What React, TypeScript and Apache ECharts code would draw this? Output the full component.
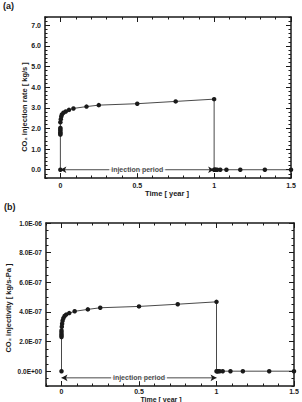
import React, { useEffect, useRef } from "react";
import * as echarts from "echarts";

// ---- data ----
const rateTime = [0, 0, 0, 0, 0, 0, 0, 0, 0.003, 0.006, 0.01, 0.02, 0.035, 0.056, 0.085, 0.17, 0.25, 0.5, 0.75, 1.0, 1.0, 1.005, 1.01, 1.02, 1.04, 1.08, 1.17, 1.33, 1.5];
const rateValue = [0, 1.7, 1.75, 1.82, 1.9, 1.97, 2.03, 2.3, 2.45, 2.58, 2.68, 2.76, 2.82, 2.9, 2.97, 3.06, 3.13, 3.2, 3.31, 3.42, 0, 0, 0, 0, 0, 0, 0, 0, 0];

const injTime = [0, 0, 0, 0, 0, 0, 0.002, 0.004, 0.007, 0.012, 0.02, 0.03, 0.05, 0.085, 0.17, 0.25, 0.5, 0.75, 1.0, 1.0, 1.005, 1.01, 1.02, 1.04, 1.09, 1.17, 1.34, 1.5];
const injValue = [0, 2.3e-7, 2.4e-7, 2.5e-7, 2.62e-7, 2.75e-7, 3.0e-7, 3.2e-7, 3.4e-7, 3.58e-7, 3.72e-7, 3.82e-7, 3.92e-7, 4.04e-7, 4.17e-7, 4.28e-7, 4.37e-7, 4.52e-7, 4.68e-7, 0, 0, 0, 0, 0, 0, 0, 0, 0];

// injection period arrow: start time, end time, level in each panel
const periodTime = [0, 1];
const periodLevelA = 0;
const periodLevelB = -0.45e-7;

const xTicks = [0, 0.5, 1, 1.5];
const rateTicks = [0, 1, 2, 3, 4, 5, 6, 7];
const injTicks = [0, 2e-7, 4e-7, 6e-7, 8e-7, 1e-6];

const FONT = "Liberation Sans";
const INK = "#1a1a1a";

function steps(min: number, max: number, step: number): number[] {
  const out: number[] = [];
  const n = Math.round((max - min) / step);
  for (let i = 0; i <= n; i++) out.push(Number((min + i * step).toPrecision(10)));
  return out;
}

function expLabel(v: number): string {
  if (Math.abs(v) < 1e-15) return "0.0E+00";
  const s = v.toExponential(1);
  const [m, e] = s.split("e");
  const ev = parseInt(e, 10);
  const sign = ev < 0 ? "-" : "+";
  const ae = Math.abs(ev);
  return m + "E" + sign + (ae < 10 ? "0" + ae : String(ae));
}

function makeAxes(
  dim: "x" | "y",
  grid: number,
  min: number,
  max: number,
  major: number[],
  minor: number[],
  fmt: (v: number) => string,
  labelSize: number,
  margin: number
) {
  const sides = dim === "x" ? ["bottom", "top"] : ["left", "right"];
  const axes: any[] = [];
  sides.forEach((pos, si) => {
    [true, false].forEach((isMajor) => {
      axes.push({
        type: "value",
        gridIndex: grid,
        position: pos,
        min,
        max,
        axisLine: { show: isMajor, onZero: false, lineStyle: { color: INK, width: 1.5 } },
        axisTick: {
          show: true,
          inside: true,
          length: isMajor ? 5 : 2.5,
          customValues: isMajor ? major : minor,
          lineStyle: { color: INK, width: 1 },
        },
        axisLabel: {
          show: isMajor && si === 0,
          customValues: major,
          formatter: (v: number) => fmt(v),
          fontFamily: FONT,
          fontWeight: "bold",
          fontSize: labelSize,
          color: INK,
          margin,
        },
        splitLine: { show: false },
        minorTick: { show: false },
      });
    });
  });
  return axes;
}

export default function App() {
  const ref = useRef<HTMLDivElement>(null);
  useEffect(() => {
    if (!ref.current) return;
    const chart = echarts.init(ref.current, null, { renderer: "svg" });

    const xMinor = steps(-0.1, 1.5, 0.1);
    const xAxes = [
      ...makeAxes("x", 0, -0.1, 1.5, xTicks, xMinor, (v) => String(v), 7, 4),
      ...makeAxes("x", 1, -0.1, 1.5, xTicks, xMinor, (v) => String(v), 7, 2),
    ];
    const yAxes = [
      ...makeAxes("y", 0, -0.4, 7.4, rateTicks, steps(-0.4, 7.4, 0.2), (v) => v.toFixed(1), 7, 4),
      ...makeAxes("y", 1, -1e-7, 1e-6, injTicks, steps(-1e-7, 1e-6, 0.5e-7), expLabel, 6.5, 4),
    ];

    const dataSeries = (xi: number, yi: number, xs: number[], ys: number[]) => ({
      type: "line",
      color: INK,
      xAxisIndex: xi,
      yAxisIndex: yi,
      data: xs.map((x, i) => [x, ys[i]]),
      symbol: "circle",
      symbolSize: 4.5,
      showSymbol: true,
      itemStyle: { color: INK },
      lineStyle: { color: INK, width: 0.8 },
      z: 3,
    });

    const arrowSeries = (xi: number, yi: number, level: number) => ({
      type: "line",
      color: INK,
      xAxisIndex: xi,
      yAxisIndex: yi,
      data: periodTime.map((t) => [t, level]),
      symbol: "arrow",
      symbolSize: [5, 6],
      symbolRotate: (_v: any, p: any) => (p.dataIndex === 0 ? 90 : -90),
      symbolOffset: 0,
      showSymbol: true,
      itemStyle: { color: INK },
      lineStyle: { color: INK, width: 0.8 },
      silent: true,
      z: 2,
    });

    const labelSeries = (xi: number, yi: number, level: number) => ({
      type: "scatter",
      xAxisIndex: xi,
      yAxisIndex: yi,
      data: [[(periodTime[0] + periodTime[1]) / 2, level]],
      symbolSize: 0,
      silent: true,
      z: 4,
      label: {
        show: true,
        position: "inside",
        formatter: "injection period",
        fontFamily: FONT,
        fontWeight: "bold",
        fontSize: 7,
        color: INK,
        backgroundColor: "#fff",
        padding: [0, 2],
      },
    });

    const titleStyle = { fontFamily: FONT, fontWeight: "bold", fontSize: 7.5, fill: INK };

    chart.setOption({
      animation: false,
      color: [INK],
      backgroundColor: "#fff",
      grid: [
        { left: 45, top: 17, width: 246, height: 161 },
        { left: 46, top: 223, width: 248, height: 163 },
      ],
      xAxis: xAxes,
      yAxis: yAxes,
      series: [
        arrowSeries(0, 0, periodLevelA),
        labelSeries(0, 0, periodLevelA),
        dataSeries(0, 0, rateTime, rateValue),
        arrowSeries(4, 4, periodLevelB),
        labelSeries(4, 4, periodLevelB),
        dataSeries(4, 4, injTime, injValue),
      ],
      graphic: [
        { type: "text", left: 3, top: 1, style: { text: "(a)", fontFamily: FONT, fontWeight: "bold", fontSize: 9, fill: INK } },
        { type: "text", left: 4, top: 202, style: { text: "(b)", fontFamily: FONT, fontWeight: "bold", fontSize: 9, fill: INK } },
        {
          type: "text",
          x: 24,
          y: 107,
          rotation: Math.PI / 2,
          style: { ...titleStyle, text: "CO₂ injection rate [ kg/s ]", align: "center", verticalAlign: "middle" },
        },
        {
          type: "text",
          x: 8,
          y: 308,
          rotation: Math.PI / 2,
          style: { ...titleStyle, text: "CO₂ injectivity [ kg/s-Pa ]", align: "center", verticalAlign: "middle" },
        },
        {
          type: "text",
          x: 167,
          y: 193,
          style: { ...titleStyle, text: "Time [ year ]", align: "center", verticalAlign: "middle" },
        },
        {
          type: "text",
          x: 161,
          y: 399,
          style: { ...titleStyle, fontSize: 7, text: "Time [ year ]", align: "center", verticalAlign: "middle" },
        },
      ],
    });
    return () => chart.dispose();
  }, []);
  return (
    <div
      ref={ref}
      style={{ position: "absolute", left: 0, top: 0, width: 302, height: 402, background: "#fff" }}
    />
  );
}
